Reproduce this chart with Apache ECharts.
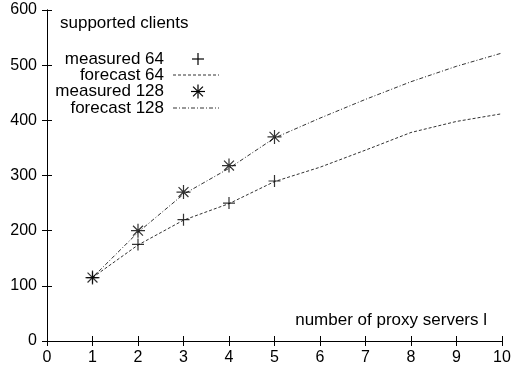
<!DOCTYPE html>
<html>
<head>
<meta charset="utf-8">
<style>html,body{margin:0;padding:0;background:#fff}#c{width:514px;height:369px}</style>
<script src="https://cdn.jsdelivr.net/npm/echarts@6/dist/echarts.min.js"></script>
</head>
<body>
<div id="c"></div>
<script>
var xMeasured = [1, 2, 3, 4, 5];
var measured64 = [115, 175, 220, 250, 290];
var measured128 = [115, 200, 270, 318, 370];
var xForecast = [1, 2, 3, 4, 5, 6, 7, 8, 9, 10];
var forecast64 = [115, 174, 219, 249, 289, 315, 346, 378, 398, 412];
var forecast128 = [115, 197, 266, 313, 368, 404, 438, 470, 498, 522];
var seriesNames = ['measured 64', 'forecast 64', 'measured 128', 'forecast 128'];
var yTitle = 'supported clients';
var xTitle = 'number of proxy servers l';

function pairs(xs, ys) { return xs.map(function (x, i) { return [x, ys[i]]; }); }

var FONT = '"Liberation Sans", Arial, Helvetica, sans-serif';
var PLUS = 'path://M0,5L10,5M5,0L5,10';
var STAR = 'path://M0,5L10,5M5,0L5,10M1.46,1.46L8.54,8.54M1.46,8.54L8.54,1.46';
var DASH64 = [3, 2];
var DASH128 = [4, 2, 1, 2];

// key (legend) drawn gnuplot-style: right-aligned text, sample on the right
var keyRows = [59, 75, 91.5, 108];
var keyTextRight = 164, keyX1 = 173, keyX2 = 219, keyMid = 198;
function seg(x1, y1, x2, y2, style) {
  return { type: 'line', silent: true, shape: { x1: x1, y1: y1, x2: x2, y2: y2 }, style: style };
}
var keyEls = [];
seriesNames.forEach(function (n, i) {
  keyEls.push({ type: 'text', silent: true, x: keyTextRight, y: keyRows[i],
    style: { text: n, font: '17px ' + FONT, fill: '#000', align: 'right', verticalAlign: 'middle' } });
});
var symStyle = { stroke: '#000', lineWidth: 1.2 };
// plus
var py = keyRows[0], h = 6;
keyEls.push(seg(keyMid - h, py, keyMid + h, py, symStyle));
keyEls.push(seg(keyMid, py - h, keyMid, py + h, symStyle));
// dashed sample
keyEls.push(seg(keyX1, keyRows[1], keyX2, keyRows[1], { stroke: '#333', lineWidth: 1, lineDash: DASH64 }));
// star
var sy = keyRows[2], r = 7, d = 4.95;
keyEls.push(seg(keyMid - r, sy, keyMid + r, sy, symStyle));
keyEls.push(seg(keyMid, sy - r, keyMid, sy + r, symStyle));
keyEls.push(seg(keyMid - d, sy - d, keyMid + d, sy + d, symStyle));
keyEls.push(seg(keyMid - d, sy + d, keyMid + d, sy - d, symStyle));
// dash-dot sample
keyEls.push(seg(keyX1, keyRows[3], keyX2, keyRows[3], { stroke: '#333', lineWidth: 1, lineDash: DASH128 }));

var axisCommonX = { type: 'value', min: 0, max: 10, interval: 1,
  axisLine: { lineStyle: { color: '#000', width: 1 } },
  axisTick: { inside: true, length: 5, lineStyle: { color: '#000' } },
  splitLine: { show: false } };
var axisCommonY = { type: 'value', min: 0, max: 600, interval: 100,
  axisLine: { show: true, lineStyle: { color: '#000', width: 1 } },
  axisTick: { show: true, inside: true, length: 5, lineStyle: { color: '#000' } },
  splitLine: { show: false } };

var chart = echarts.init(document.getElementById('c'), null, { renderer: 'canvas' });
chart.setOption({
  animation: false,
  backgroundColor: '#fff',
  grid: { left: 47, right: 12, top: 10, bottom: 28, containLabel: false },
  title: [
    { text: yTitle, left: 60, top: 15, padding: 0, textStyle: { fontFamily: FONT, fontSize: 17, fontWeight: 'normal', color: '#000', lineHeight: 17 } },
    { text: xTitle, right: 27, top: 312, padding: 0, textStyle: { fontFamily: FONT, fontSize: 17, fontWeight: 'normal', color: '#000', lineHeight: 17 } }
  ],
  graphic: keyEls,
  xAxis: [
    Object.assign({}, axisCommonX, { position: 'bottom',
      axisLabel: { fontFamily: FONT, fontSize: 16, color: '#000', margin: 9 } }),
    Object.assign({}, axisCommonX, { position: 'top', axisLabel: { show: false } })
  ],
  yAxis: [
    Object.assign({}, axisCommonY, { position: 'left',
      axisLabel: { fontFamily: FONT, fontSize: 16, color: '#000', margin: 10 } }),
    Object.assign({}, axisCommonY, { position: 'right', axisLabel: { show: false } })
  ],
  series: [
    { name: seriesNames[0], type: 'scatter', data: pairs(xMeasured, measured64),
      symbol: PLUS, symbolSize: 12, z: 5,
      itemStyle: { color: 'none', borderColor: '#000', borderWidth: 1.2 } },
    { name: seriesNames[1], type: 'line', data: pairs(xForecast, forecast64),
      symbol: 'none', z: 3, color: '#333',
      lineStyle: { color: '#333', width: 1, type: DASH64 } },
    { name: seriesNames[2], type: 'scatter', data: pairs(xMeasured, measured128),
      symbol: STAR, symbolSize: 14, z: 5,
      itemStyle: { color: 'none', borderColor: '#000', borderWidth: 1.2 } },
    { name: seriesNames[3], type: 'line', data: pairs(xForecast, forecast128),
      symbol: 'none', z: 3, color: '#333',
      lineStyle: { color: '#333', width: 1, type: DASH128 } }
  ]
});
</script>
</body>
</html>
